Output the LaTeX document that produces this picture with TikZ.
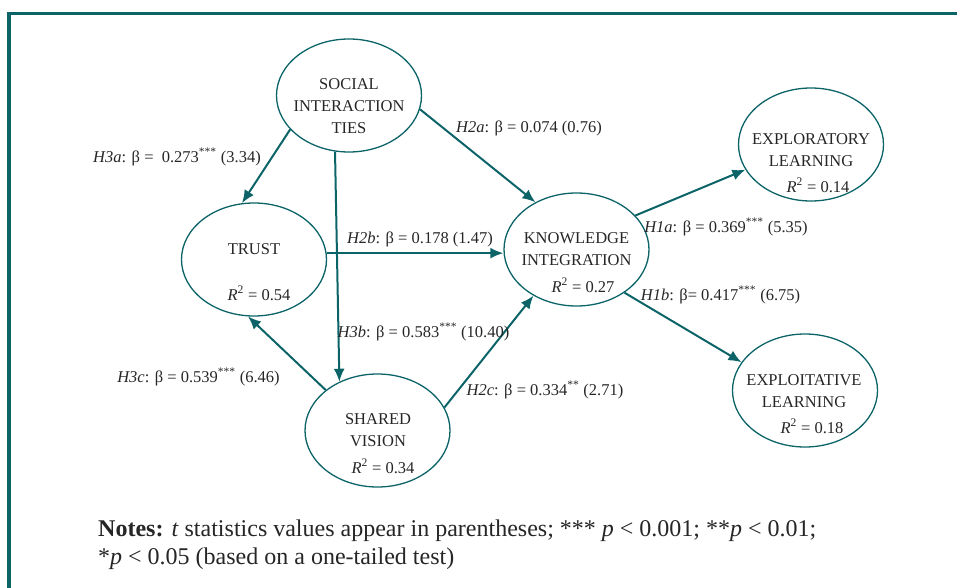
\documentclass[tikz,border=0pt]{standalone}
\usepackage{fontspec}
\setmainfont{Liberation Serif}
\usetikzlibrary{positioning, shapes.geometric, arrows.meta, calc}
\definecolor{pathteal}{RGB}{12,100,104}

\begin{document}
\begin{tikzpicture}[
    x=1pt, y=-1pt,
    latent/.style={draw=pathteal, line width=1.3pt, ellipse, minimum width=145pt, minimum height=113pt, inner sep=0pt},
    cname/.style={align=center, font=\fontsize{16.5}{22}\selectfont, inner sep=0pt, text=black!85},
    rsq/.style={anchor=base, font=\fontsize{16.5}{20}\selectfont, inner sep=0pt, text=black!85},
    coef/.style={anchor=base, font=\fontsize{16.5}{20}\selectfont, inner sep=0pt, text=black!85},
    link/.style={-{Latex[length=13pt,width=11pt]}, line width=2pt, draw=pathteal},
    boxline/.style={line width=3.5pt, draw=pathteal}
]
\useasboundingbox (0,0) rectangle (957,588);
\draw[boxline] (957,13.5) -- (9,13.5) -- (9,590);

% constructs
\node[latent] (social) at (349,95.5) {};
\node[latent] (trust) at (254,259.5) {};
\node[latent] (know) at (576.5,249.5) {};
\node[latent] (explor) at (811,144.5) {};
\node[latent] (exploit) at (805,390.5) {};
\node[latent] (shared) at (377.5,430.5) {};

\node[cname] (socialT) at (349,106.5) {SOCIAL\\INTERACTION\\TIES};
\node[cname] (trustT) at (254,249) {TRUST};
\node[cname] (knowT) at (576.5,249.5) {KNOWLEDGE\\INTEGRATION};
\node[cname] (explorT) at (811,150) {EXPLORATORY\\LEARNING};
\node[cname] (exploitT) at (804,391) {EXPLOITATIVE\\LEARNING};
\node[cname] (sharedT) at (378,430.5) {SHARED\\VISION};

\node[rsq] (trustR) at (259,300) {\textit{R}\textsuperscript{2} = 0.54};
\node[rsq] (knowR) at (583,292) {\textit{R}\textsuperscript{2} = 0.27};
\node[rsq] (explorR) at (818,192) {\textit{R}\textsuperscript{2} = 0.14};
\node[rsq] (exploitR) at (812,433) {\textit{R}\textsuperscript{2} = 0.18};
\node[rsq] (sharedR) at (383,473) {\textit{R}\textsuperscript{2} = 0.34};

% paths
\draw[link] (social.210) -- (trust.102);
\draw[link] (social.256) -- (shared.128);
\draw[link] (social.349) -- (know.131);
\draw[link] (trust.5) -- (trust.5 -| know.west);
\draw[link] (shared.142) -- (trust.264);
\draw[link] (shared.19) -- (know.227);
\draw[link] (know.30) -- (explor.201);
\draw[link] (know.318) -- (exploit.156);

% coefficients
\node[coef] (h3a) at (177,162) {\textit{H3a}: β =~ 0.273\textsuperscript{***} (3.34)};
\node[coef] (h2a) at (529,133) {\textit{H2a}: β = 0.074 (0.76)};
\node[coef] (h2b) at (420,243) {\textit{H2b}: β = 0.178 (1.47)};
\node[coef] (h1a) at (726,232) {\textit{H1a}: β = 0.369\textsuperscript{***} (5.35)};
\node[coef] (h1b) at (720.5,300) {\textit{H1b}: β= 0.417\textsuperscript{***} (6.75)};
\node[coef] (h3b) at (423.5,337) {\textit{H3b}: β = 0.583\textsuperscript{***} (10.40)};
\node[coef] (h3c) at (198.5,382) {\textit{H3c}: β = 0.539\textsuperscript{***} (6.46)};
\node[coef] (h2c) at (545,395) {\textit{H2c}: β = 0.334\textsuperscript{**} (2.71)};

\node[anchor=base west, align=left, inner sep=0pt, text=black!85, font=\fontsize{24}{28}\selectfont] (notes) at (98,564)
    {\textbf{Notes:} \textit{t} statistics values appear in parentheses; *** \textit{p} < 0.001; **\textit{p} < 0.01;\\
     *\textit{p} < 0.05 (based on a one-tailed test)};
\end{tikzpicture}
\end{document}
